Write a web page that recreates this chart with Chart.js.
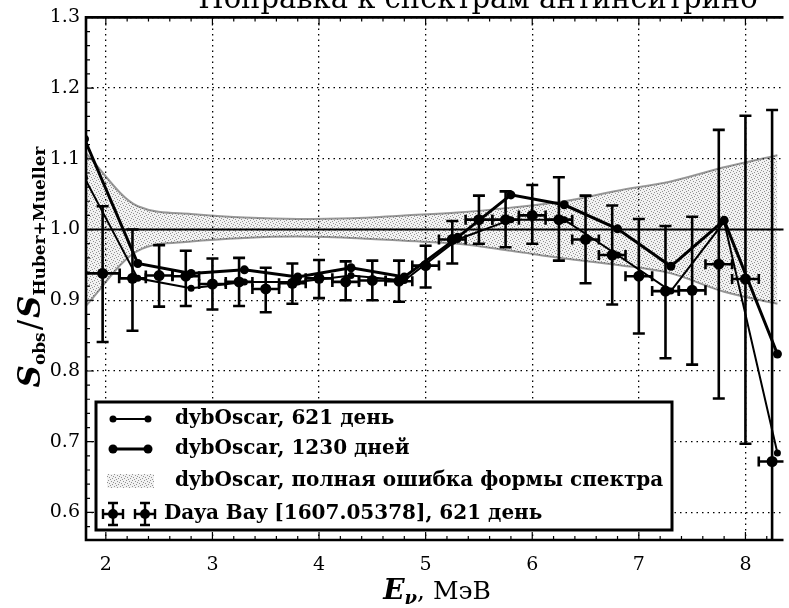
<!DOCTYPE html>
<html>
<head>
<meta charset="utf-8">
<script src="https://cdn.jsdelivr.net/npm/chart.js@4.4.0/dist/chart.umd.min.js"></script>
<style>
  html,body{ margin:0; padding:0; background:#fff; }
  #wrap{ position:relative; width:789px; height:608px; }
</style>
</head>
<body>
<div id="wrap"><canvas id="chart" width="789" height="608"></canvas></div>
<script>
/* ======== DATA ======== */
// dybOscar points on a 0.5 MeV grid
const gridE   = [1.8, 2.3, 2.8, 3.3, 3.8, 4.3, 4.8, 5.3, 5.8, 6.3, 6.8, 7.3, 7.8, 8.3];
const osc621  = [1.073, 0.931, 0.917, 0.926, 0.926, 0.935, 0.928, 0.986, 1.014, 1.014, 0.964, 0.913, 1.011, 0.684];
const osc1230 = [1.128, 0.952, 0.938, 0.943, 0.933, 0.946, 0.933, 0.989, 1.049, 1.035, 1.001, 0.948, 1.013, 0.824];
// full spectrum shape error band
const bandHi  = [1.110, 1.033, 1.022, 1.017, 1.015, 1.016, 1.020, 1.024, 1.031, 1.040, 1.055, 1.068, 1.088, 1.105];
const bandLo  = [0.890, 0.970, 0.983, 0.988, 0.990, 0.988, 0.984, 0.980, 0.970, 0.959, 0.950, 0.938, 0.912, 0.895];
// Daya Bay [1607.05378], 621 days
const dybE    = [1.97, 2.25, 2.5, 2.75, 3.0, 3.25, 3.5, 3.75, 4.0, 4.25, 4.5, 4.75, 5.0, 5.25, 5.5, 5.75, 6.0, 6.25, 6.5, 6.75, 7.0, 7.25, 7.5, 7.75, 8.0, 8.25];
const dybR    = [0.938, 0.931, 0.935, 0.934, 0.923, 0.926, 0.916, 0.924, 0.931, 0.926, 0.928, 0.927, 0.949, 0.986, 1.014, 1.014, 1.020, 1.014, 0.986, 0.964, 0.934, 0.913, 0.914, 0.951, 0.930, 0.672];
const dybHi   = [1.033, 1.000, 0.978, 0.970, 0.959, 0.960, 0.946, 0.952, 0.957, 0.955, 0.956, 0.956, 0.977, 1.012, 1.048, 1.054, 1.063, 1.074, 1.048, 1.034, 1.015, 1.005, 1.018, 1.141, 1.161, 1.169];
const dybLo   = [0.841, 0.857, 0.891, 0.892, 0.887, 0.892, 0.883, 0.895, 0.903, 0.900, 0.900, 0.898, 0.918, 0.952, 0.980, 0.975, 0.980, 0.956, 0.924, 0.894, 0.853, 0.818, 0.809, 0.761, 0.697, 0.400];
const dybBinHalf = 0.125;
const dybFirstBin = [1.8, 2.13];

const xTicks = [2, 3, 4, 5, 6, 7, 8];
const yTicks = [0.6, 0.7, 0.8, 0.9, 1.0, 1.1, 1.2, 1.3];
const xRange = [1.814, 8.357];
const yRange = [0.561, 1.3];

const TITLE = 'Поправка к спектрам антинейтрино';
const LEG = ['dybOscar, 621 день', 'dybOscar, 1230 дней', 'dybOscar, полная ошибка формы спектра', 'Daya Bay [1607.05378], 621 день'];
const SERIF = '"DejaVu Serif", "Liberation Serif", serif';

const pts = (xs, ys) => xs.map((x,i)=>({x, y:ys[i]}));

/* ======== STIPPLE FILL ======== */
const bandFill = (function(){
  const c = document.createElement('canvas'); c.width = 6; c.height = 6;
  const g = c.getContext('2d');
  g.fillStyle = 'rgba(0,0,0,0.05)'; g.fillRect(0,0,6,6);
  g.fillStyle = 'rgba(0,0,0,0.4)';
  [[0,0],[3,1],[1,3],[4,4],[5,2],[2,5]].forEach(p=>g.fillRect(p[0],p[1],1,1));
  return document.getElementById('chart').getContext('2d').createPattern(c,'repeat');
})();

/* ======== HELPERS ======== */
function richText(ctx, parts, cx, baseY){
  let w = 0;
  parts.forEach(p=>{ ctx.font = p.font; p.w = ctx.measureText(p.t).width; w += p.w + (p.gap||0); });
  let x = cx - w/2;
  ctx.textAlign = 'left'; ctx.textBaseline = 'alphabetic';
  parts.forEach(p=>{ ctx.font = p.font; ctx.fillText(p.t, x, baseY + (p.dy||0)); x += p.w + (p.gap||0); });
}

function errMarker(ctx, x, y, hw, hh, r){
  ctx.beginPath();
  ctx.moveTo(x-hw, y); ctx.lineTo(x+hw, y);
  ctx.moveTo(x-hw, y-5); ctx.lineTo(x-hw, y+5);
  ctx.moveTo(x+hw, y-5); ctx.lineTo(x+hw, y+5);
  ctx.moveTo(x, y-hh); ctx.lineTo(x, y+hh);
  ctx.moveTo(x-5, y-hh); ctx.lineTo(x+5, y-hh);
  ctx.moveTo(x-5, y+hh); ctx.lineTo(x+5, y+hh);
  ctx.stroke();
  ctx.beginPath(); ctx.arc(x, y, r, 0, Math.PI*2); ctx.fill();
}

/* ======== DECORATION PLUGIN ======== */
const deco = {
  id:'deco',
  beforeDatasetsDraw(chart){
    const {ctx, chartArea:a, scales:{y}} = chart;
    const py = y.getPixelForValue(1.0);
    ctx.save();
    ctx.strokeStyle = '#000'; ctx.lineWidth = 2;
    ctx.beginPath(); ctx.moveTo(a.left, py); ctx.lineTo(a.right, py); ctx.stroke();
    ctx.restore();
  },
  afterDatasetsDraw(chart){
    const {ctx, chartArea:a, scales:{x,y}} = chart;
    ctx.save();
    ctx.beginPath(); ctx.rect(a.left, a.top, a.right-a.left, a.bottom-a.top); ctx.clip();
    ctx.strokeStyle = '#000'; ctx.lineWidth = 2.6; ctx.lineCap = 'butt';
    dybE.forEach((e,i)=>{
      const lo = i===0 ? dybFirstBin[0] : e - dybBinHalf;
      const hi = i===0 ? dybFirstBin[1] : e + dybBinHalf;
      const px = x.getPixelForValue(e), py = y.getPixelForValue(dybR[i]);
      const x0 = x.getPixelForValue(lo), x1 = x.getPixelForValue(hi);
      const yt = y.getPixelForValue(dybHi[i]), yb = y.getPixelForValue(dybLo[i]);
      ctx.beginPath();
      ctx.moveTo(x0, py); ctx.lineTo(x1, py);
      ctx.moveTo(x0, py-5); ctx.lineTo(x0, py+5);
      ctx.moveTo(x1, py-5); ctx.lineTo(x1, py+5);
      ctx.moveTo(px, yt); ctx.lineTo(px, yb);
      ctx.moveTo(px-6, yt); ctx.lineTo(px+6, yt);
      ctx.moveTo(px-6, yb); ctx.lineTo(px+6, yb);
      ctx.stroke();
    });
    ctx.restore();
  },
  afterDraw(chart){
    const {ctx, chartArea:a, scales:{x,y}} = chart;
    ctx.save();
    ctx.strokeStyle = '#000'; ctx.fillStyle = '#000';

    // minor / major ticks pointing inward
    ctx.lineWidth = 1.2;
    ctx.beginPath();
    for(let k = 0; k <= 35; k++){
      const v = 1.8 + k*0.2;
      if(v < xRange[0] || v > xRange[1]) continue;
      const px = x.getPixelForValue(v);
      const len = Math.abs(v - Math.round(v)) < 1e-6 ? 8 : 4;
      ctx.moveTo(px, a.bottom); ctx.lineTo(px, a.bottom - len);
      ctx.moveTo(px, a.top); ctx.lineTo(px, a.top + len);
    }
    for(let k = 0; k <= 40; k++){
      const v = 0.56 + k*0.02;
      if(v < yRange[0] || v > yRange[1] + 1e-6) continue;
      const py = y.getPixelForValue(v);
      const len = Math.abs(v*10 - Math.round(v*10)) < 1e-6 ? 8 : 4;
      ctx.moveTo(a.left, py); ctx.lineTo(a.left + len, py);
    }
    ctx.stroke();

    // frame
    ctx.lineWidth = 2.6;
    ctx.beginPath();
    ctx.moveTo(a.right, a.top); ctx.lineTo(a.left, a.top); ctx.lineTo(a.left, a.bottom); ctx.lineTo(a.right, a.bottom);
    ctx.stroke();

    // legend
    const L = {x0:96, y0:402, x1:672, y1:530};
    ctx.fillStyle = '#fff';
    ctx.fillRect(L.x0, L.y0, L.x1-L.x0, L.y1-L.y0);
    ctx.lineWidth = 3; ctx.strokeStyle = '#000';
    ctx.strokeRect(L.x0, L.y0, L.x1-L.x0, L.y1-L.y0);
    ctx.fillStyle = '#000';
    const rows = [419, 449, 481, 514];
    [[2, 3.5], [3, 4.5]].forEach((s, i)=>{
      const yy = rows[i];
      ctx.lineWidth = s[0];
      ctx.beginPath(); ctx.moveTo(113, yy); ctx.lineTo(148, yy); ctx.stroke();
      [113, 148].forEach(xx=>{ ctx.beginPath(); ctx.arc(xx, yy, s[1], 0, Math.PI*2); ctx.fill(); });
    });
    ctx.fillStyle = bandFill;
    ctx.fillRect(107, rows[2]-7, 47, 14);
    ctx.fillStyle = '#000';
    ctx.lineWidth = 2.4;
    errMarker(ctx, 113, rows[3], 10, 11, 5);
    errMarker(ctx, 145, rows[3], 10, 11, 5);

    ctx.font = 'bold 20px ' + SERIF;
    ctx.textAlign = 'left'; ctx.textBaseline = 'middle';
    ctx.fillText(LEG[0], 175, rows[0]);
    ctx.fillText(LEG[1], 175, rows[1]);
    ctx.fillText(LEG[2], 175, rows[2]);
    ctx.fillText(LEG[3], 164, rows[3]);

    // title (cut off at the top edge)
    ctx.font = '29px ' + SERIF;
    ctx.textAlign = 'center'; ctx.textBaseline = 'alphabetic';
    ctx.fillText(TITLE, 478, 8);

    // x axis title
    richText(ctx, [
      {t:'E', font:'bold italic 28px ' + SERIF},
      {t:'ν', font:'bold italic 18px ' + SERIF, dy:5},
      {t:', МэВ', font:'25px ' + SERIF}
    ], 437, 599);

    // y axis title
    ctx.translate(40, 267);
    ctx.rotate(-Math.PI/2);
    richText(ctx, [
      {t:'S', font:'bold italic 31px ' + SERIF},
      {t:'obs', font:'bold 17px ' + SERIF, dy:5, gap:2},
      {t:'/', font:'31px ' + SERIF, gap:2},
      {t:'S', font:'bold italic 31px ' + SERIF},
      {t:'Huber+Mueller', font:'bold 17px ' + SERIF, dy:5}
    ], 0, 0);
    ctx.restore();
  }
};

/* ======== CHART ======== */
const lineSet = (label, ys, w, r, order) => ({
  label, data: pts(gridE, ys), borderColor:'#000', backgroundColor:'#000',
  borderWidth:w, pointRadius:r, pointBackgroundColor:'#000', pointBorderWidth:0,
  tension:0, fill:false, order
});

new Chart(document.getElementById('chart'), {
  type:'line',
  data:{
    datasets:[
      lineSet(LEG[0], osc621, 2, 3.5, 2),
      lineSet(LEG[1], osc1230, 3, 4.5, 3),
      { label:LEG[2], data:pts(gridE, bandHi), fill:'+1', backgroundColor:bandFill,
        borderColor:'rgba(70,70,70,0.55)', borderWidth:2, pointRadius:0, cubicInterpolationMode:'monotone', order:5 },
      { label:'band-lo', data:pts(gridE, bandLo), fill:false,
        borderColor:'rgba(70,70,70,0.55)', borderWidth:2, pointRadius:0, cubicInterpolationMode:'monotone', order:6 },
      { label:LEG[3], data:pts(dybE, dybR), showLine:false, pointRadius:5.5, pointBackgroundColor:'#000',
        pointBorderWidth:0, borderColor:'#000', order:1 }
    ]
  },
  options:{
    responsive:false, animation:false, events:[],
    layout:{ padding:{ top:13, right:0, left:0, bottom:0 } },
    plugins:{ legend:{display:false}, tooltip:{enabled:false}, title:{display:false} },
    scales:{
      x:{
        type:'linear', min:xRange[0], max:xRange[1],
        afterBuildTicks: s => { s.ticks = xTicks.map(v=>({value:v})); },
        afterFit: s => { s.height = 68; },
        grid:{ color:'#000', lineWidth:1.3, drawTicks:false },
        border:{ display:false, dash:[1.5,4] },
        ticks:{ color:'#000', padding:14, maxRotation:0, font:{ family:SERIF, size:19 } }
      },
      y:{
        type:'linear', min:yRange[0], max:yRange[1],
        afterBuildTicks: s => { s.ticks = yTicks.map(v=>({value:v})); },
        afterFit: s => { s.width = 86; },
        grid:{ color:'#000', lineWidth:1.3, drawTicks:false },
        border:{ display:false, dash:[1.5,4] },
        ticks:{ color:'#000', padding:6, font:{ family:SERIF, size:19 }, callback: v => v.toFixed(1) }
      }
    }
  },
  plugins:[deco]
});
</script>
</body>
</html>
